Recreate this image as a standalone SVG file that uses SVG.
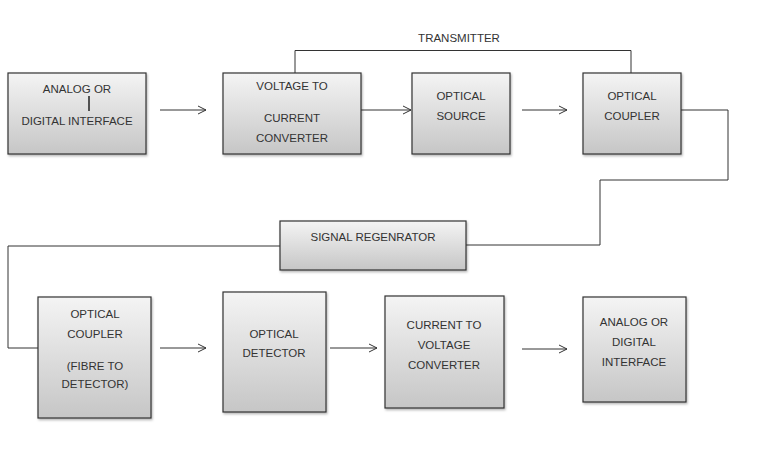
<svg xmlns="http://www.w3.org/2000/svg" width="768" height="451" viewBox="0 0 768 451">
<style>
.b{fill:url(#g);stroke:#333;stroke-width:1.2;filter:url(#s)}
.t{font-family:"Liberation Sans",Arial,sans-serif;font-size:11.5px;fill:#333;text-anchor:middle}
.c{fill:none;stroke:#333;stroke-width:1}
.a{fill:none;stroke:#333;stroke-width:1;marker-end:url(#m)}
</style>
<defs>
<linearGradient id="g" x1="0" y1="0" x2="0" y2="1">
<stop offset="0" stop-color="#f4f4f4"/>
<stop offset="1" stop-color="#c6c6c6"/>
</linearGradient>
<filter id="s" x="-10%" y="-10%" width="130%" height="130%">
<feDropShadow dx="1" dy="1.5" stdDeviation="1" flood-color="#000" flood-opacity="0.3"/>
</filter>
<marker id="m" markerWidth="10" markerHeight="10" refX="9" refY="5" orient="auto" markerUnits="userSpaceOnUse">
<path d="M1,1 L9,5 L1,9" fill="none" stroke="#333" stroke-width="1"/>
</marker>
</defs>
<rect width="768" height="451" fill="#fff"/>
<g id="connectors">
<path class="c" d="M295,73 V50.5 H631 V73" stroke="#666"/>
<text class="t" x="459" y="42">TRANSMITTER</text>
<path class="c" d="M681,110 H728 V180 H600 V245 H466"/>
<path class="c" d="M280,246 H8 V348 H38"/>
<line class="a" x1="160" y1="110" x2="206" y2="110"/>
<line class="a" x1="361" y1="110" x2="411" y2="110"/>
<line class="a" x1="522" y1="110" x2="567" y2="110"/>
<line class="a" x1="160" y1="348" x2="206" y2="348"/>
<line class="a" x1="330" y1="348" x2="377" y2="348"/>
<line class="a" x1="522" y1="349" x2="567" y2="349"/>
</g>
<g id="n1">
<rect class="b" x="8" y="73" width="138" height="81"/>
<text class="t" x="77" y="93">ANALOG OR</text>
<line x1="89" y1="96" x2="89" y2="111" stroke="#222" stroke-width="1.5"/>
<text class="t" x="77" y="125">DIGITAL INTERFACE</text>
</g>
<g id="n2">
<rect class="b" x="223" y="73" width="138" height="81"/>
<text class="t" x="292" y="90">VOLTAGE TO</text>
<text class="t" x="292" y="122">CURRENT</text>
<text class="t" x="292" y="142">CONVERTER</text>
</g>
<g id="n3">
<rect class="b" x="412" y="73" width="98" height="81"/>
<text class="t" x="461" y="100">OPTICAL</text>
<text class="t" x="461" y="120">SOURCE</text>
</g>
<g id="n4">
<rect class="b" x="583" y="73" width="98" height="81"/>
<text class="t" x="632" y="100">OPTICAL</text>
<text class="t" x="632" y="120">COUPLER</text>
</g>
<g id="n5">
<rect class="b" x="280" y="221" width="186" height="49"/>
<text class="t" x="373" y="241">SIGNAL REGENRATOR</text>
</g>
<g id="n6">
<rect class="b" x="38" y="297" width="113" height="121"/>
<text class="t" x="95" y="318">OPTICAL</text>
<text class="t" x="95" y="338">COUPLER</text>
<text class="t" x="95" y="370">(FIBRE TO</text>
<text class="t" x="95" y="388">DETECTOR)</text>
</g>
<g id="n7">
<rect class="b" x="223" y="292" width="103" height="120"/>
<text class="t" x="274" y="338">OPTICAL</text>
<text class="t" x="274" y="357">DETECTOR</text>
</g>
<g id="n8">
<rect class="b" x="385" y="296" width="119" height="112"/>
<text class="t" x="444" y="329">CURRENT TO</text>
<text class="t" x="444" y="349">VOLTAGE</text>
<text class="t" x="444" y="369">CONVERTER</text>
</g>
<g id="n9">
<rect class="b" x="583" y="297" width="103" height="105"/>
<text class="t" x="634" y="326">ANALOG OR</text>
<text class="t" x="634" y="346">DIGITAL</text>
<text class="t" x="634" y="366">INTERFACE</text>
</g>
</svg>
